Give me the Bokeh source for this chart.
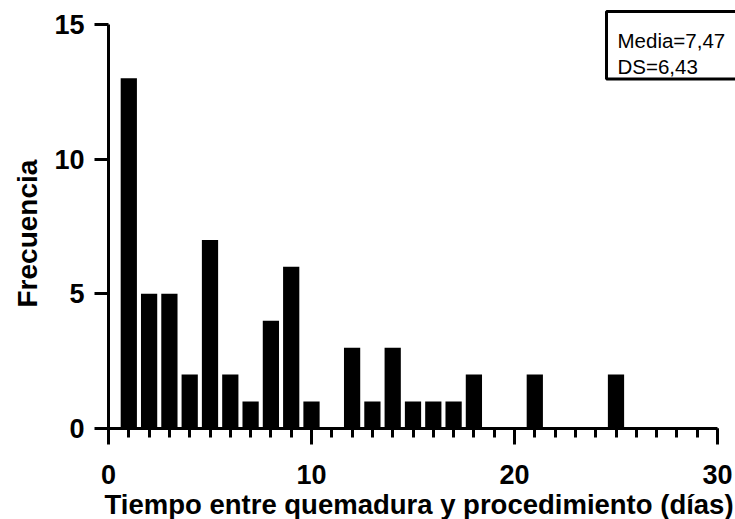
from bokeh.plotting import figure
from bokeh.models import FixedTicker, Range1d, Title
from bokeh.core.properties import value
from bokeh.embed import file_html
from bokeh.resources import INLINE

# data
dias = [1, 2, 3, 4, 5, 6, 7, 8, 9, 10, 12, 13, 14, 15, 16, 17, 18, 21, 25]
frecuencia = [13, 5, 5, 2, 7, 2, 1, 4, 6, 1, 3, 1, 3, 1, 1, 1, 2, 2, 2]
x_major = [0, 10, 20, 30]
x_minor = list(range(0, 31))
y_major = [0, 5, 10, 15]
stats_lines = ["Media=7,47", "DS=6,43"]
x_title = "Tiempo entre quemadura y procedimiento (días)"
y_title = "Frecuencia"

FONT = "Liberation Sans"
W, H = 735, 519
LEFT, BOTTOM = 108, 88
X0, X1, Y0, Y1 = 0, 30, 0, 15
PX_X = 609.0   # pixels from x=0 to x=30
PX_Y = 407.0   # pixels from y=0 to y=15
frame_w = W - LEFT
frame_h = H - BOTTOM
x_end = X0 + frame_w * (X1 - X0) / PX_X
y_end = Y0 + frame_h * (Y1 - Y0) / PX_Y

def dx(px):   # page pixel x -> data x
    return X0 + (px - LEFT) * (X1 - X0) / PX_X

def dy(py):   # page pixel y -> data y
    return Y0 + ((H - BOTTOM) - py) * (Y1 - Y0) / PX_Y

p = figure(width=W, height=H, output_backend="svg", toolbar_location=None,
           x_range=Range1d(X0, x_end), y_range=Range1d(Y0, y_end),
           min_border_left=LEFT, min_border_right=0, min_border_top=0, min_border_bottom=BOTTOM)
p.outline_line_color = None
p.xgrid.grid_line_color = None
p.ygrid.grid_line_color = None

p.vbar(x=dias, top=frecuencia, width=0.8, fill_color="black", line_color=None)

for ax in (p.xaxis[0], p.yaxis[0]):
    ax.axis_line_width = 3
    ax.axis_line_color = "black"
    ax.major_tick_line_width = 3
    ax.major_tick_line_color = "black"
    ax.major_label_text_font = FONT
    ax.major_label_text_font_style = "bold"
    ax.major_label_text_font_size = "27px"
    ax.major_label_text_color = "black"

p.xaxis.bounds = (X0, X1)
p.xaxis.ticker = FixedTicker(ticks=x_major, minor_ticks=x_minor)
p.xaxis.major_tick_in = 0
p.xaxis.major_tick_out = 16
p.xaxis.minor_tick_out = 9
p.xaxis.minor_tick_in = 0
p.xaxis.minor_tick_line_width = 3
p.xaxis.minor_tick_line_color = "black"
p.xaxis.major_label_standoff = 20

p.yaxis.bounds = (Y0, Y1)
p.yaxis.ticker = FixedTicker(ticks=y_major)
p.yaxis.major_tick_in = 0
p.yaxis.major_tick_out = 14
p.yaxis.minor_tick_line_color = None
p.yaxis.major_label_standoff = 10

# axis titles as side titles so that they can be placed like the reference
xt = Title(text=x_title, align="left", offset=-4, standoff=0,
           text_font=FONT, text_font_style="bold", text_font_size="27.5px", text_color="black")
p.add_layout(xt, "below")
yt = Title(text=y_title, align="left", offset=121, standoff=17,
           text_font=FONT, text_font_style="bold", text_font_size="28px", text_color="black")
p.add_layout(yt, "left")

# statistics box (annotation) in the top-right corner
p.quad(left=[dx(606)], right=[dx(745)], top=[dy(11)], bottom=[dy(79)],
       fill_color="white", line_color="black", line_width=3)
p.text(x=[dx(617), dx(617)], y=[dy(40), dy(66)], text=stats_lines,
       text_font=value(FONT), text_font_size="20.5px", text_color="black",
       text_align="left", text_baseline="alphabetic")

open("out.html", "w").write(file_html(p, INLINE))
